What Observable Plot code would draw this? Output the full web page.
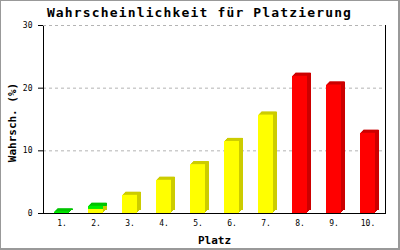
<!DOCTYPE html>
<html>
<head>
<meta charset="utf-8">
<script src="https://cdn.jsdelivr.net/npm/d3@7"></script>
<script src="https://cdn.jsdelivr.net/npm/@observablehq/plot@0.6"></script>
<style>
  html, body { margin: 0; padding: 0; background: #fff; }
  #chart {
    position: relative; width: 400px; height: 250px; box-sizing: border-box;
    border: 1px solid #999; border-right-width: 2px; border-bottom-width: 2px;
    background: #fff; overflow: hidden;
  }
  #title {
    position: absolute; left: 0; top: 3px; width: 397px; text-align: center;
    font: bold 13px "DejaVu Sans Mono", monospace; letter-spacing: 1.15px;
    line-height: 18px; color: #000; white-space: nowrap; z-index: 2;
  }
  #plot { position: absolute; left: 0; top: 18px; z-index: 1; }
</style>
</head>
<body>
<div id="chart">
  <div id="title">Wahrscheinlichkeit für Platzierung</div>
  <div id="plot"></div>
</div>
<script>
const places = ["1.", "2.", "3.", "4.", "5.", "6.", "7.", "8.", "9.", "10."];
const yellowValues = [0, 0.65, 2.9, 5.3, 7.8, 11.5, 15.7, 0, 0, 0];
const greenValues  = [0.25, 0.5, 0, 0, 0, 0, 0, 0, 0, 0];
const redValues    = [0, 0, 0, 0, 0, 0, 0, 21.9, 20.5, 12.8];
const yTicks = [0, 10, 20, 30];
const gridTicks = [10, 20, 30];
const frontColors = {yellow: "#ffff00", green: "#00ee00", red: "#ff0000"};
const sideColors  = {yellow: "#cccc00", green: "#00c400", red: "#cc0000"};

const rows = [];
places.forEach((p, i) => {
  if (yellowValues[i] > 0) rows.push({place: p, group: "yellow", value: yellowValues[i]});
  if (greenValues[i] > 0) rows.push({place: p, group: "green", value: greenValues[i]});
  if (redValues[i] > 0) rows.push({place: p, group: "red", value: redValues[i]});
});

const depth = [[1, -1], [2, -2], [3, -3], [4, -3]];
const backBars = depth.map(([dx, dy]) =>
  Plot.barY(rows, {x: "place", y: "value", fill: d => sideColors[d.group], dx, dy}));

const chart = Plot.plot({
  width: 397,
  height: 229,
  marginLeft: 42,
  marginRight: 13,
  marginTop: 6,
  marginBottom: 35,
  style: {fontFamily: "DejaVu Sans Mono, monospace", fontSize: "8px", color: "#000", background: "transparent"},
  x: {domain: places, paddingInner: 0.56, paddingOuter: 0.28, tickSize: 0, tickPadding: 7, label: null},
  y: {domain: [0, 30], ticks: yTicks, tickSize: 5, tickPadding: 6, label: null, tickFormat: d => String(d)},
  color: {type: "identity"},
  marks: [
    Plot.ruleY(gridTicks.slice(0, 2), {stroke: "#b4b4b4", strokeOpacity: 1, strokeDasharray: "3,3"}),
    ...backBars,
    Plot.barY(rows, {x: "place", y: "value", fill: d => frontColors[d.group]}),
    Plot.frame({stroke: "#000"}),
    Plot.ruleY([30], {stroke: "#fff", strokeOpacity: 1}),
    Plot.ruleY([30], {stroke: "#b4b4b4", strokeOpacity: 1, strokeDasharray: "3,3"}),
    Plot.text(["Platz"], {text: d => d, frameAnchor: "bottom", textAnchor: "middle", lineAnchor: "middle", dy: 26.5, fontSize: 11, fontWeight: "bold"}),
    Plot.text(["Wahrsch. (%)"], {text: d => d, frameAnchor: "left", textAnchor: "middle", lineAnchor: "middle", dx: -31, dy: 3, rotate: -90, fontSize: 11, fontWeight: "bold", letterSpacing: 0.3})
  ]
});
document.getElementById("plot").appendChild(chart);
</script>
</body>
</html>
